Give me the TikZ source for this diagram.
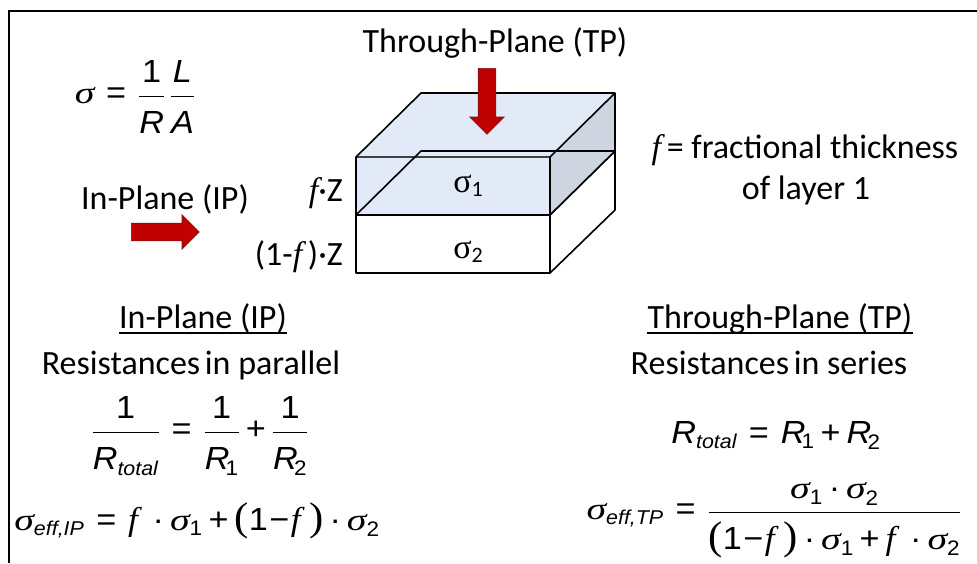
\documentclass[tikz,border=0pt]{standalone}
\usepackage{amsmath}
\usepackage{fontspec}
\usepackage{tikz}
\usetikzlibrary{shapes,arrows,calc}
\setmainfont{Carlito}
\newfontfamily\eqfont{Liberation Sans}
\newfontfamily\symfont{Liberation Serif}
\definecolor{layerblue}{RGB}{225,234,246}
\definecolor{sideblue}{RGB}{207,213,224}
\definecolor{arrowred}{RGB}{192,0,0}
\definecolor{arrowedge}{RGB}{120,20,20}
\newcommand{\vi}[1]{\text{\eqfont\itshape #1}}
\newcommand{\vn}[1]{\text{\eqfont #1}}
\newcommand{\vsig}{\text{\scalebox{1.2}[1]{\symfont\itshape\fontsize{31}{31}\selectfont σ}}}
\newcommand{\vf}{\text{\symfont\itshape\fontsize{33}{33}\selectfont f}\,\,}
\newcommand{\vsub}[1]{_{\mbox{\fontsize{20}{20}\selectfont\eqfont\itshape #1}}}
\newcommand{\vnum}[1]{_{\mbox{\fontsize{21}{21}\selectfont\eqfont #1}}}
\newcommand{\veq}{\mathrel{\,\vn{=}\,}}
\newcommand{\vplus}{\mathbin{\vn{+}}}
\newcommand{\vminus}{\mathbin{\!\vn{−}\!}}
\newcommand{\vdot}{\mathbin{\vn{·}}}
\newcommand{\vlp}{\mathopen{\text{\symfont\fontsize{40}{40}\selectfont(}}}
\newcommand{\vrp}{\mathclose{\text{\symfont\fontsize{40}{40}\selectfont)}}}
\newcommand{\vfrac}[2]{\genfrac{}{}{1.1pt}{0}{\rule[-10pt]{0pt}{10pt}#1}{\rule{0pt}{33pt}#2}}
\tikzset{
  label/.style={inner sep=0pt,anchor=base,font=\fontsize{34}{40}\selectfont},
  formula/.style={inner sep=0pt,anchor=base,xscale=1.07,transform shape,font=\fontsize{32}{37}\selectfont},
  redarrow/.style={shape=single arrow,draw=arrowedge,fill=arrowred,line width=0.6pt,inner xsep=0pt,inner ysep=8.5pt,single arrow head extend=8.5pt,single arrow head indent=0pt},
  edge/.style={line width=1.6pt,line join=round}
}
\begin{document}
\begin{tikzpicture}[x=1pt,y=-1pt]
\useasboundingbox (0,0) rectangle (977,563);
% frame
\draw[line width=2.6pt] (9,563) -- (9,11) -- (977,11);
% corners of the block
\coordinate (fa) at (356,157);
\coordinate (fb) at (550,157);
\coordinate (fc) at (550,215);
\coordinate (fd) at (356,215);
\coordinate (fe) at (356,273);
\coordinate (ff) at (550,273);
\coordinate (ba) at (421,93);
\coordinate (bb) at (615,93);
\coordinate (bc) at (615,151);
\coordinate (bd) at (421,151);
\coordinate (bf) at (615,210);
% lower layer
\draw[edge,fill=white] (fd) -- (fc) -- (ff) -- (fe) -- cycle;
\draw[edge,fill=white] (fc) -- (bc) -- (bf) -- (ff) -- cycle;
% upper layer
\fill[layerblue] (fa) -- (ba) -- (bb) -- (fb) -- cycle;
\fill[layerblue] (fa) -- (fb) -- (fc) -- (fd) -- cycle;
\fill[sideblue] (fb) -- (bb) -- (bc) -- (fc) -- cycle;
\draw[edge,black!75] (fa) -- (fb);
\draw[edge] (fd) -- (bd) -- (bc);
\draw[edge] (fa) -- (ba) -- (bb) -- (fb) -- (fc) -- (fd) -- cycle;
\draw[edge] (bb) -- (bc) -- (fc);
\draw[line width=2.2pt] (fd) -- (fc);
% arrows
\node[redarrow,rotate=-90,minimum height=66pt,anchor=tail] (arrowtp) at (487,68) {};
\node[redarrow,minimum height=68pt,anchor=tail] (arrowip) at (131,232) {};
% labels
\node[label] (toplabel) at (495,52) {Through-Plane (TP)};
\node[label] (iplabel) at (165,209) {In-Plane (IP)};
\node[label,anchor=base east] (zone) at (343,201) {\symfont\itshape f\normalfont\rmfamily·Z};
\node[label,anchor=base east] (ztwo) at (343,265) {(1-{\symfont\itshape f}\,)·Z};
\node[label] (sigone) at (468,192) {{\symfont σ}\raisebox{-4pt}{\fontsize{22}{22}\selectfont 1}};
\node[label] (sigtwo) at (468,258) {{\symfont σ}\raisebox{-4pt}{\fontsize{22}{22}\selectfont 2}};
\node[label] (fracone) at (805,158) {{\symfont\itshape f}\,= fractional thickness};
\node[label] (fractwo) at (806,199) {of layer 1};
\node[label] (iphead) at (203,328) {In-Plane (IP)};
\node[label] (iptext) at (191,374) {Resistances\hspace{-3pt} in parallel};
\node[label] (tphead) at (780,328) {Through-Plane (TP)};
\node[label] (tptext) at (769,374) {Resistances\hspace{-3pt} in series};
% underlines
\draw[line width=2pt] ($(iphead.base west)+(0,5)$) -- ($(iphead.base east)+(0,5)$);
\draw[line width=2pt] ($(tphead.base west)+(0,5)$) -- ($(tphead.base east)+(0,5)$);
% formulas
\node[formula] (eqsigma) at (135,103) {$\vsig \veq \vfrac{\vn{1}}{\vi{R}}\,\vfrac{\vi{L}}{\vi{A}}$};
\node[formula] (eqipr) at (200,439) {$\vfrac{\vn{1}}{\vi{R}\vsub{total}} \veq \vfrac{\vn{1}}{\vi{R}\vnum{\!1}} \vplus \vfrac{\vn{1}}{\vi{R}\vnum{\!2}}$};
\node[formula] (eqips) at (197,530) {$\vsig\vsub{eff,IP} \veq \vf\vdot\vsig\vnum{1} \vplus \vlp\vn{1}\vminus\vf\vrp\vdot\vsig\vnum{2}$};
\node[formula] (eqtpr) at (776,443) {$\vi{R}\vsub{total} \veq \vi{R}\vnum{\!1} \vplus \vi{R}\vnum{\!2}$};
\node[formula] (eqtps) at (774,519) {$\vsig\vsub{eff,TP} \veq \vfrac{\vsig\vnum{1}\vdot\vsig\vnum{2}}{\vlp\vn{1}\vminus\vf\vrp\vdot\vsig\vnum{1} \vplus \vf\vdot\vsig\vnum{2}}$};
\end{tikzpicture}
\end{document}
